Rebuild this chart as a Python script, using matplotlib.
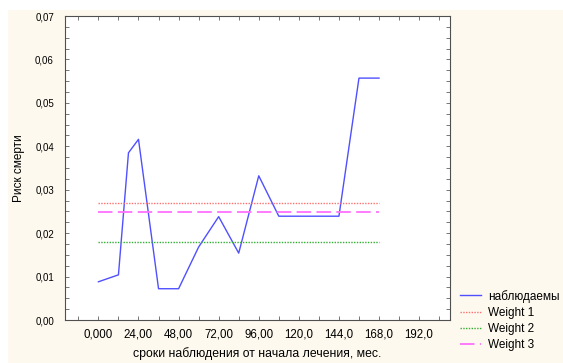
import matplotlib.pyplot as plt
from matplotlib.ticker import MultipleLocator, FixedLocator, FixedFormatter
from matplotlib.patches import Rectangle

plt.rcParams['font.family'] = ['Liberation Sans', 'DejaVu Sans']

# observed risk of death by follow-up month
months = [0, 12, 18, 24, 36, 48, 60, 72, 84, 96, 108, 120, 132, 144, 156, 168]
risk = [0.0088, 0.0104, 0.0385, 0.0416, 0.0072, 0.0072, 0.0168, 0.0238, 0.0154,
        0.0332, 0.0239, 0.0239, 0.0239, 0.0239, 0.0557, 0.0557]

weight1 = 0.0269
weight2 = 0.0179
weight3 = 0.0249

xtick_pos = [0, 24, 48, 72, 96, 120, 144, 168, 192]
xtick_lbl = ["0,000", "24,00", "48,00", "72,00", "96,00", "120,0", "144,0", "168,0", "192,0"]
ytick_pos = [0.0, 0.01, 0.02, 0.03, 0.04, 0.05, 0.06, 0.07]
ytick_lbl = ["0,00", "0,01", "0,02", "0,03", "0,04", "0,05", "0,06", "0,07"]

fig = plt.figure(figsize=(5.63, 3.63), dpi=100)
fig.patch.set_facecolor('white')
fig.patches.append(Rectangle((8 / 563, 0), 1, 1 - 10 / 363, transform=fig.transFigure,
                             facecolor='#fef9ee', edgecolor='none', zorder=-10))

ax = fig.add_axes([65 / 563, 43 / 363, 385 / 563, 304 / 363])
ax.set_facecolor('white')

ax.plot(months, risk, color='#5050ff', lw=1.0, label='наблюдаемы')
ax.plot([months[0], months[-1]], [weight1, weight1], color='#ff7070', lw=1.0,
        linestyle=(0, (1, 1)), label='Weight 1')
ax.plot([months[0], months[-1]], [weight2, weight2], color='#30b030', lw=1.0,
        linestyle=(0, (1, 1)), label='Weight 2')
ax.plot([months[0], months[-1]], [weight3, weight3], color='#ff70ff', lw=1.3,
        linestyle=(0, (8, 3)), label='Weight 3')

ax.set_xlim(-20, 210.5)
ax.set_ylim(0, 0.07)

ax.xaxis.set_major_locator(FixedLocator(xtick_pos))
ax.xaxis.set_major_formatter(FixedFormatter(xtick_lbl))
ax.xaxis.set_minor_locator(MultipleLocator(12))
ax.yaxis.set_major_locator(FixedLocator(ytick_pos))
ax.yaxis.set_major_formatter(FixedFormatter(ytick_lbl))
ax.yaxis.set_minor_locator(MultipleLocator(0.0025))

ax.tick_params(which='both', direction='in', top=True, right=True, length=3,
               width=0.6, color='#606060')
ax.tick_params(axis='x', labelsize=8.3, pad=6)
ax.tick_params(axis='y', labelsize=7, pad=8)
for s in ax.spines.values():
    s.set_color('#505050')
    s.set_linewidth(0.8)

ax.set_xlabel("сроки наблюдения от начала лечения, мес.", fontsize=8.8, labelpad=5)
ax.set_ylabel("Риск смерти", fontsize=8.5, labelpad=7)

ax.legend(loc='upper left', bbox_to_anchor=(449 / 563, 84 / 363), bbox_transform=fig.transFigure,
          frameon=False, fontsize=8.5, handlelength=1.8, labelspacing=0.35, handletextpad=0.6)

fig.savefig("out.png", dpi=100)
